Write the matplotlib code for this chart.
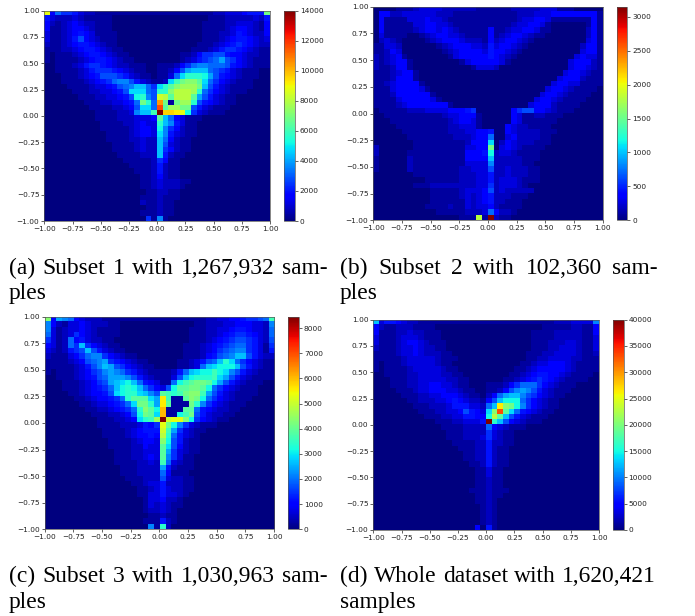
import numpy as np
import matplotlib
matplotlib.use('Agg')
import matplotlib.pyplot as plt

# each cell is one character, 0-9a-z = level 0..35 of that panel's vmax
# rows run from y=1 down to y=-1, columns from x=-1 to x=1
subset1_rows = [
    "m486653221" "1111111111" "1111111111" "223334555h",
    "5322232111" "1100000000" "0000000001" "1122222325",
    "4212343221" "1100000000" "0000000011" "1122333214",
    "4112344321" "1100000000" "0000000011" "1123443214",
    "3112345431" "1110000000" "0000000011" "1223543224",
    "3112357432" "1110000000" "0000000011" "1234554323",
    "2112345543" "2110000000" "0000000111" "2345654322",
    "1112234554" "3211000000" "0000001112" "3566543211",
    "1011123455" "4321100000" "0000112466" "7754432211",
    "1011112345" "5432110000" "0000123567" "8a76432111",
    "0011123566" "5432211100" "1112468998" "8875432111",
    "0011112356" "6654321100" "11247abbb8" "7653211100",
    "0001112345" "7776532110" "1138ceeeda" "7543211100",
    "0001111234" "5689975321" "12cfhiigc8" "6432111000",
    "0000111123" "345789bb86" "cegijjjhb7" "5321111000",
    "0000011122" "33457ccc87" "eeikkkje86" "4321110000",
    "0000001112" "233457de97" "lkgkkkga75" "3211000000",
    "0000000111" "2233458he8" "qh1hjje754" "3211000000",
    "0000000011" "1122347cc8" "tgjjhh7532" "1110000000",
    "0000000001" "1112239bbf" "zoonmd6321" "1100000000",
    "0000000001" "1112223334" "gb84311100" "0000000000",
    "0000000000" "1111223433" "eb95311000" "0000000000",
    "0000000000" "1111123443" "d964211000" "0000000000",
    "0000000000" "0111123443" "c953211000" "0000000000",
    "0000000000" "0111122322" "b842110000" "0000000000",
    "0000000000" "0011112322" "b732110000" "0000000000",
    "0000000000" "0011112322" "b642110000" "0000000000",
    "0000000000" "0001111222" "b521100000" "0000000000",
    "0000000000" "0000111112" "6411000000" "0000000000",
    "0000000000" "0000011112" "5211000000" "0000000000",
    "0000000000" "0000001112" "5211000000" "0000000000",
    "0000000000" "0000000112" "4211000000" "0000000000",
    "0000000000" "0000000112" "3222110000" "0000000000",
    "0000000000" "0000000112" "3222100000" "0000000000",
    "0000000000" "0000000011" "2211000000" "0000000000",
    "0000000000" "0000000111" "2111000000" "0000000000",
    "0000000000" "0000000211" "2110000000" "0000000000",
    "0000000000" "0000000011" "2110000000" "0000000000",
    "0000000000" "0000000111" "2110000000" "0000000000",
    "0000000000" "0000000061" "9100000000" "0000000000",
]

subset2_rows = [
    "0000111233" "3322222211" "1111222223" "3311100000",
    "0442233333" "3222111111" "1111122233" "3444444441",
    "0411113334" "3321111111" "1111123344" "3111111141",
    "0411111334" "4332111111" "1111233443" "1000000141",
    "0411111234" "4343211111" "4112334431" "1000000241",
    "0311110012" "3443321111" "4123443211" "0000000241",
    "0232100001" "2344432221" "4234432100" "0000000341",
    "1133200000" "0123444332" "5344321000" "0000002441",
    "1124300000" "0012344443" "5443210000" "0000003441",
    "2123410000" "0001344444" "5432100000" "0000034331",
    "2123441000" "0000013444" "4431000000" "0000344421",
    "2112441000" "0000000133" "3200000000" "0000344321",
    "1112344100" "0000000000" "0000000000" "0003443211",
    "1112444100" "0000000000" "0000000000" "0034442111",
    "1123444410" "0000000000" "0000000000" "0344331111",
    "1113444431" "0000000000" "0000000000" "3443211110",
    "1112444444" "1000000000" "0000000003" "4432111100",
    "1111344444" "3100000000" "0000000034" "4321111000",
    "1111234444" "4441000000" "0000000344" "4211110000",
    "0111112223" "3334445600" "0000467744" "3211100000",
    "0011111111" "1123344410" "0000431122" "1110000000",
    "0001111111" "1112344310" "0000431111" "1100000000",
    "0000111111" "1112233310" "0004322111" "1000000000",
    "0000011111" "1112223344" "5004322221" "1100000000",
    "0000001111" "1111222344" "8003422221" "1000000000",
    "0000000111" "1111112444" "c024322211" "1000000000",
    "2000000111" "1111113344" "h034321111" "0000000000",
    "2000001111" "1111114445" "d233211110" "0000000000",
    "1000002111" "1111114444" "b222221110" "0000000000",
    "1000002111" "1111113333" "9222221100" "0000000000",
    "1000002111" "1111122333" "7223222110" "0000000000",
    "0000000111" "1111122233" "5223222110" "0000000000",
    "0000000001" "1111122233" "5233321110" "0000000000",
    "0000000111" "2222222233" "6233321000" "0000000000",
    "0000000000" "1111123334" "7232222200" "0000000000",
    "0000000000" "1111123234" "5222111000" "0000000000",
    "0000000000" "1111113234" "5221110000" "0000000000",
    "0000000001" "1112113233" "4211110000" "0000000000",
    "0000000000" "0111112223" "8422100000" "0000000000",
    "0000000000" "00000111k1" "z211000000" "0000000000",
]

subset3_rows = [
    "i4a9843222" "1111111111" "1111111122" "334456678f",
    "9421334322" "2110000000" "0000001122" "2334443329",
    "9312334321" "1110000000" "0000011122" "3345543328",
    "8312364321" "1110000000" "0000011122" "3456654328",
    "6312845322" "1100000000" "0000011123" "4567765327",
    "431286b643" "2110000000" "0000111234" "5678865316",
    "3212567b75" "3211000000" "0000111234" "6789965315",
    "2111346899" "6432110000" "0000111245" "789bb75322",
    "1111234789" "a654321100" "0001123578" "bec8643211",
    "1111123579" "ba76432110" "00011238bc" "dddb753211",
    "1011123467" "9a98653211" "11258bcddf" "dc97532111",
    "0011123457" "8aaa975321" "1137bdeeef" "ca75321111",
    "0001112346" "7abcdb8543" "118dfghhgd" "a753211100",
    "0001112345" "68bdedb864" "37dgghhgd8" "6432111000",
    "0000112344" "57cdeecb97" "gfefhiifa7" "5321111000",
    "0000011234" "4568egggca" "nf11gihd86" "4321110000",
    "0000001123" "34568chhea" "ng111he964" "3211100000",
    "0000000112" "234568eigd" "p111gg8543" "2211000000",
    "0000000011" "122347dhgc" "p11dfh7532" "2110000000",
    "0000000001" "112234cefj" "zlmmid6432" "1100000000",
    "0000000001" "1112223546" "mhd9632111" "0000000000",
    "0000000000" "1111234555" "lfa6321100" "0000000000",
    "0000000000" "1111234454" "ke85321000" "0000000000",
    "0000000000" "0111123443" "id75211000" "0000000000",
    "0000000000" "0111122433" "gc74211000" "0000000000",
    "0000000000" "0011122333" "ga63211000" "0000000000",
    "0000000000" "0011122343" "g963110000" "0000000000",
    "0000000000" "0011112232" "f832110000" "0000000000",
    "0000000000" "0001112222" "a521110000" "0000000000",
    "0000000000" "0001112222" "8411100000" "0000000000",
    "0000000000" "0000111222" "7322110000" "0000000000",
    "0000000000" "0000011233" "5222110000" "0000000000",
    "0000000000" "0000001123" "5322110000" "0000000000",
    "0000000000" "0000001133" "5332100000" "0000000000",
    "0000000000" "0000000133" "4221000000" "0000000000",
    "0000000000" "0000000132" "3211000000" "0000000000",
    "0000000000" "0000000122" "3210000000" "0000000000",
    "0000000000" "0000000011" "2110000000" "0000000000",
    "0000000000" "0000000111" "5210000000" "0000000000",
    "0000000000" "0000000091" "e200000000" "0000000000",
]

whole_rows = [
    "b355432211" "1111111111" "1111111111" "1122233339",
    "4211222111" "1000000000" "0000000000" "1111122114",
    "4111223221" "1100000000" "0000000011" "1122222114",
    "3111233321" "1100000000" "0000000011" "1122222113",
    "3111234432" "1110000000" "0000000011" "1222332113",
    "2111233432" "2110000000" "0000000011" "1223332113",
    "1111233432" "2211000000" "0000000111" "2233332112",
    "1111123333" "3211100000" "0000000112" "2333322111",
    "1011123333" "3211000000" "0000001123" "3444321111",
    "1011112333" "3321100000" "0000011234" "4444321111",
    "0011112233" "3322110000" "0000112345" "5443211110",
    "0001112233" "3332211000" "0001123456" "5432111100",
    "0001112233" "4433211000" "1112468886" "4321110000",
    "0000111233" "4443321100" "112479a975" "3211100000",
    "0000011122" "3344432110" "248abb9764" "3211000000",
    "0000001122" "2334543221" "47bddd8643" "2110000000",
    "0000000111" "2223555332" "8bnihd9643" "2110000000",
    "0000000011" "1223347543" "citgc85432" "1100000000",
    "0000000001" "1122335544" "dkgb753211" "1000000000",
    "0000000000" "0111223335" "zeb7432111" "0000000000",
    "0000000000" "0011112222" "8432111000" "0000000000",
    "0000000000" "0001112222" "6321100000" "0000000000",
    "0000000000" "0001112223" "6321100000" "0000000000",
    "0000000000" "0000111122" "5221100000" "0000000000",
    "0000000000" "0000011122" "5211000000" "0000000000",
    "0000000000" "0000001122" "5211000000" "0000000000",
    "0000000000" "0000001122" "5211000000" "0000000000",
    "0000000000" "0000000112" "5211000000" "0000000000",
    "0000000000" "0000000011" "3110000000" "0000000000",
    "0000000000" "0000000011" "3110000000" "0000000000",
    "0000000000" "0000000011" "2110000000" "0000000000",
    "0000000000" "0000000011" "2110000000" "0000000000",
    "0000000000" "0000000111" "2111000000" "0000000000",
    "0000000000" "0000000011" "2110000000" "0000000000",
    "0000000000" "0000000011" "2100000000" "0000000000",
    "0000000000" "0000000001" "2100000000" "0000000000",
    "0000000000" "0000000001" "2100000000" "0000000000",
    "0000000000" "0000000001" "2100000000" "0000000000",
    "0000000000" "0000000001" "2100000000" "0000000000",
    "0000000000" "0000000040" "5100000000" "0000000000",
]

vmaxes = [14000, 3150, 8450, 40000]
cbar_ticks = [
    list(range(0, 14001, 2000)),
    list(range(0, 3001, 500)),
    list(range(0, 8001, 1000)),
    list(range(0, 40001, 5000)),
]
xy_ticks = [-1.0, -0.75, -0.5, -0.25, 0.0, 0.25, 0.5, 0.75, 1.0]

captions = [
    ["(a) Subset 1 with 1,267,932 sam-", "ples"],
    ["(b) Subset 2 with 102,360 sam-", "ples"],
    ["(c) Subset 3 with 1,030,963 sam-", "ples"],
    ["(d) Whole dataset with 1,620,421", "samples"],
]

W, H = 695, 616
# axes and colorbar boxes in pixels: left, right, top, bottom
ax_boxes = [(44.3, 270, 10.7, 221), (373.3, 602.7, 6.7, 220.3),
            (44.7, 274, 316.7, 529.3), (373.3, 599, 319.7, 530)]
cax_boxes = [(284, 295, 10.7, 221), (617, 627.3, 6.7, 220.3),
             (288, 299, 316.7, 529.3), (613, 623.7, 319.7, 530)]
# caption left, right, first and second baseline
cap_boxes = [(9, 328, 274, 299), (340, 658, 274, 299),
             (9, 328, 582, 608), (340, 656, 582, 608)]
CAP_SIZE = 16.9


def to_rect(box):
    l, r, t, b = box
    return [l / W, 1 - b / H, (r - l) / W, (b - t) / H]


def decode(rows, vmax):
    levels = [[int(c, 36) for c in r.ljust(40, '0')[:40]] for r in rows]
    return np.array(levels) / 35 * vmax


def style_axis(ax, size=5.3):
    ax.tick_params(labelsize=size, length=2, width=0.5, pad=1.5,
                   colors='#222222')
    for s in ax.spines.values():
        s.set_linewidth(0.5)
        s.set_color('#555555')


def justified(fig, line, x0, x1, y):
    # spread the words of a caption line over the column width
    words = line.split(' ')
    renderer = fig.canvas.get_renderer()
    items = [fig.text(x0 / W, 1 - y / H, w, family='Liberation Serif',
                      fontsize=CAP_SIZE, va='baseline') for w in words]
    widths = [t.get_window_extent(renderer).width for t in items]
    gap = (x1 - x0 - sum(widths)) / (len(words) - 1)
    x = x0
    for t, w in zip(items, widths):
        t.set_x(x / W)
        x += w + gap


fig = plt.figure(figsize=(W / 100, H / 100), dpi=100)

all_rows = [subset1_rows, subset2_rows, subset3_rows, whole_rows]
for i, rows in enumerate(all_rows):
    ax = fig.add_axes(to_rect(ax_boxes[i]))
    im = ax.imshow(decode(rows, vmaxes[i]), cmap='jet', vmin=0, vmax=vmaxes[i],
                   extent=[-1, 1, -1, 1], aspect='auto', interpolation='nearest')
    ax.set_xticks(xy_ticks)
    ax.set_yticks(xy_ticks)
    ax.xaxis.set_major_formatter(lambda v, p: f"{v:.2f}".replace('-', '\u2212'))
    ax.yaxis.set_major_formatter(lambda v, p: f"{v:.2f}".replace('-', '\u2212'))
    style_axis(ax)

    cax = fig.add_axes(to_rect(cax_boxes[i]))
    fig.colorbar(im, cax=cax, ticks=cbar_ticks[i])
    style_axis(cax)

    l, r, y1, y2 = cap_boxes[i]
    justified(fig, captions[i][0], l, r, y1)
    fig.text(l / W, 1 - y2 / H, captions[i][1], family='Liberation Serif',
             fontsize=CAP_SIZE, va='baseline')

fig.savefig('out.png', dpi=100)
